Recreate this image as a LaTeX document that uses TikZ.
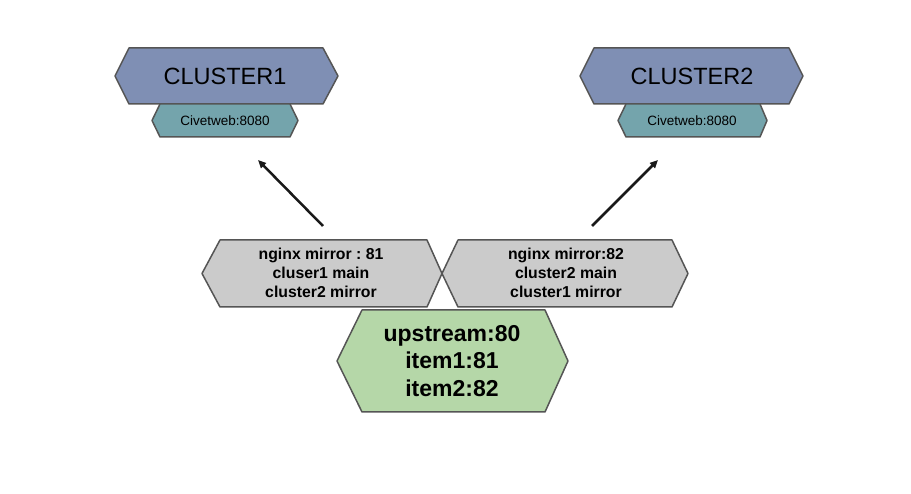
\documentclass[tikz,border=0pt]{standalone}
\usepackage{fontspec}
\setmainfont{Liberation Sans}
\frenchspacing
\usetikzlibrary{arrows.meta}
\definecolor{clusterfill}{HTML}{7F8FB4}
\definecolor{civetfill}{HTML}{74A4AC}
\definecolor{nginxfill}{HTML}{CBCBCB}
\definecolor{upfill}{HTML}{B5D7A8}
\definecolor{edgegray}{HTML}{555555}
\newcommand{\hexshape}[7]{%
  \path[#7] (#1,{(#5+#6)/2}) -- (#2,#5) -- (#3,#5) -- (#4,{(#5+#6)/2}) -- (#3,#6) -- (#2,#6) -- cycle;}
\begin{document}
\begin{tikzpicture}[x=1pt,y=-1pt,
  hexbox/.style={draw=edgegray,line width=1.5pt,line join=round},
  clusterbox/.style={hexbox,fill=clusterfill},
  civetbox/.style={hexbox,fill=civetfill},
  nginxbox/.style={hexbox,fill=nginxfill},
  upbox/.style={hexbox,fill=upfill},
  bigtext/.style={font=\fontsize{23.5}{28}\selectfont,inner sep=0pt},
  smalltext/.style={font=\fontsize{13.5}{16}\selectfont,inner sep=0pt},
  nginxtext/.style={font=\bfseries\fontsize{15.8}{19}\selectfont,align=center,inner sep=0pt},
  uptext/.style={font=\bfseries\fontsize{23}{27.5}\selectfont,align=center,inner sep=0pt},
  arrowline/.style={line width=2.5pt,-{Triangle[length=8pt,width=7pt]},color=black!90}]
\useasboundingbox (0,0) rectangle (911,494);
% hexagons
\hexshape{115}{129}{323}{338}{48}{104}{clusterbox}
\hexshape{152}{160}{290}{298}{104}{137}{civetbox}
\hexshape{580}{594}{789}{803}{48}{104}{clusterbox}
\hexshape{618}{626}{760}{767}{104}{137}{civetbox}
\hexshape{202}{220}{427}{442}{240}{307}{nginxbox}
\hexshape{442}{458}{672}{688}{240}{307}{nginxbox}
\hexshape{337}{362}{545}{568}{310}{412}{upbox}
% texts
\node[bigtext] (c1) at (225,76) {CLUSTER1};
\node[smalltext] (w1) at (225,121) {Civetweb:8080};
\node[bigtext] (c2) at (692,76) {CLUSTER2};
\node[smalltext] (w2) at (692,121) {Civetweb:8080};
\node[nginxtext] (n1) at (321,273) {nginx mirror : 81\\cluser1 main\\cluster2 mirror};
\node[nginxtext] (n2) at (566,273) {nginx mirror:82\\cluster2 main\\cluster1 mirror};
\node[uptext] (up) at (452,361) {upstream:80\\item1:81\\item2:82};
% arrows
\coordinate (a1s) at (323,226);
\coordinate (a1e) at (258,160);
\coordinate (a2s) at (592,226);
\coordinate (a2e) at (658,160);
\draw[arrowline] (a1s) -- (a1e);
\draw[arrowline] (a2s) -- (a2e);
\end{tikzpicture}
\end{document}
